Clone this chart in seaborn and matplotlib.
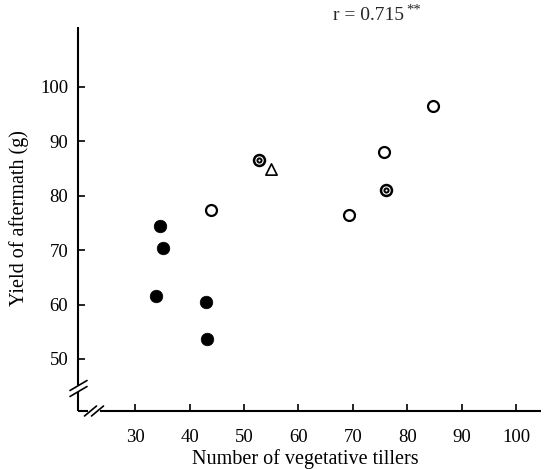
import matplotlib
matplotlib.use("Agg")
import matplotlib.pyplot as plt
import seaborn as sns
import pandas as pd
from matplotlib.lines import Line2D

# ---- data ----
filled_x = [34.5, 35.1, 33.8, 43.1, 43.3]
filled_y = [74.5, 70.4, 61.5, 60.4, 53.6]
open_x = [44.0, 75.7, 69.4, 84.7]
open_y = [77.3, 88.1, 76.5, 96.5]
double_x = [52.7, 76.1]
double_y = [86.6, 81.1]
tri_x = [55.0]
tri_y = [84.9]
x_ticks = [30, 40, 50, 60, 70, 80, 90, 100]
y_ticks = [50, 60, 70, 80, 90, 100]
x_label = "Number of vegetative tillers"
y_label = "Yield of aftermath (g)"
r_text = "r = 0.715"
r_sig = "**"

sns.set_theme(style="white")
plt.rcParams["font.family"] = ["Liberation Serif", "DejaVu Serif"]

fig = plt.figure(figsize=(5.47, 4.69), dpi=100)
W, H = 547, 469
ax_l, ax_r, ax_t, ax_b = 78, 547, 27, 411
ax = fig.add_axes([ax_l / W, (H - ax_b) / H, (ax_r - ax_l) / W, (ax_b - ax_t) / H])

df_f = pd.DataFrame({"x": filled_x, "y": filled_y})
df_o = pd.DataFrame({"x": open_x, "y": open_y})
df_d = pd.DataFrame({"x": double_x, "y": double_y})
df_t = pd.DataFrame({"x": tri_x, "y": tri_y})

sns.scatterplot(data=df_f, x="x", y="y", ax=ax, marker="o", s=82,
                color="black", edgecolor="black", linewidth=0.5, zorder=3)
sns.scatterplot(data=df_o, x="x", y="y", ax=ax, marker="o", s=62,
                facecolor="white", edgecolor="black", linewidth=1.6, zorder=3)
sns.scatterplot(data=df_d, x="x", y="y", ax=ax, marker="o", s=62,
                facecolor="white", edgecolor="black", linewidth=1.8, zorder=3)
sns.scatterplot(data=df_d, x="x", y="y", ax=ax, marker="o", s=9,
                facecolor="white", edgecolor="black", linewidth=1.4, zorder=4)
sns.scatterplot(data=df_t, x="x", y="y", ax=ax, marker="^", s=66,
                facecolor="white", edgecolor="black", linewidth=1.2, zorder=3)

ax.set_xlim(19.5, 105.7)
ax.set_ylim(40.44, 111.0)
ax.set_xticks(x_ticks)
ax.set_yticks(y_ticks)
ax.tick_params(axis="both", which="major", direction="in", length=5, width=1.2,
               color="black", labelsize=13.5, labelcolor="black",
               bottom=True, left=True, top=False, right=False)
ax.tick_params(axis="x", pad=13)
ax.tick_params(axis="y", pad=7)
for sp in ax.spines.values():
    sp.set_visible(False)
ax.grid(False)
ax.set_facecolor("white")

ax.set_xlabel(x_label, fontsize=14.5, color="black")
ax.set_ylabel(y_label, fontsize=14.5, color="black")

def fx(px):
    return (px - ax_l) / (ax_r - ax_l)

def fy(py):
    return (ax_b - py) / (ax_b - ax_t)

ax.xaxis.set_label_coords(fx(305), fy(449))
ax.yaxis.set_label_coords(fx(29), fy(218))

kw = dict(transform=ax.transAxes, color="black", lw=1.5, clip_on=False,
          solid_capstyle="butt")
# y axis with break
ax.add_line(Line2D([0, 0], [0, fy(392)], **kw))
ax.add_line(Line2D([0, 0], [fy(385), 1.0], **kw))
for cy in (385.5, 391.5):
    ax.add_line(Line2D([fx(70), fx(87)], [fy(cy + 5), fy(cy - 5)],
                transform=ax.transAxes, color="black", lw=1.2, clip_on=False))
# x axis with break
ax.add_line(Line2D([0, fx(88)], [0, 0], **kw))
ax.add_line(Line2D([fx(100), fx(541)], [0, 0], **kw))
for cx in (90.5, 97.5):
    ax.add_line(Line2D([fx(cx - 6), fx(cx + 6)], [fy(ax_b + 5), fy(ax_b - 5)],
                transform=ax.transAxes, color="black", lw=1.2, clip_on=False))

fig.text(333 / W, 1 - 15 / H, r_text, fontsize=14, ha="left", va="center")
fig.text(406 / W, 1 - 10 / H, r_sig, fontsize=10.5, ha="left", va="center")

fig.savefig("out.png", dpi=100, facecolor="white")
